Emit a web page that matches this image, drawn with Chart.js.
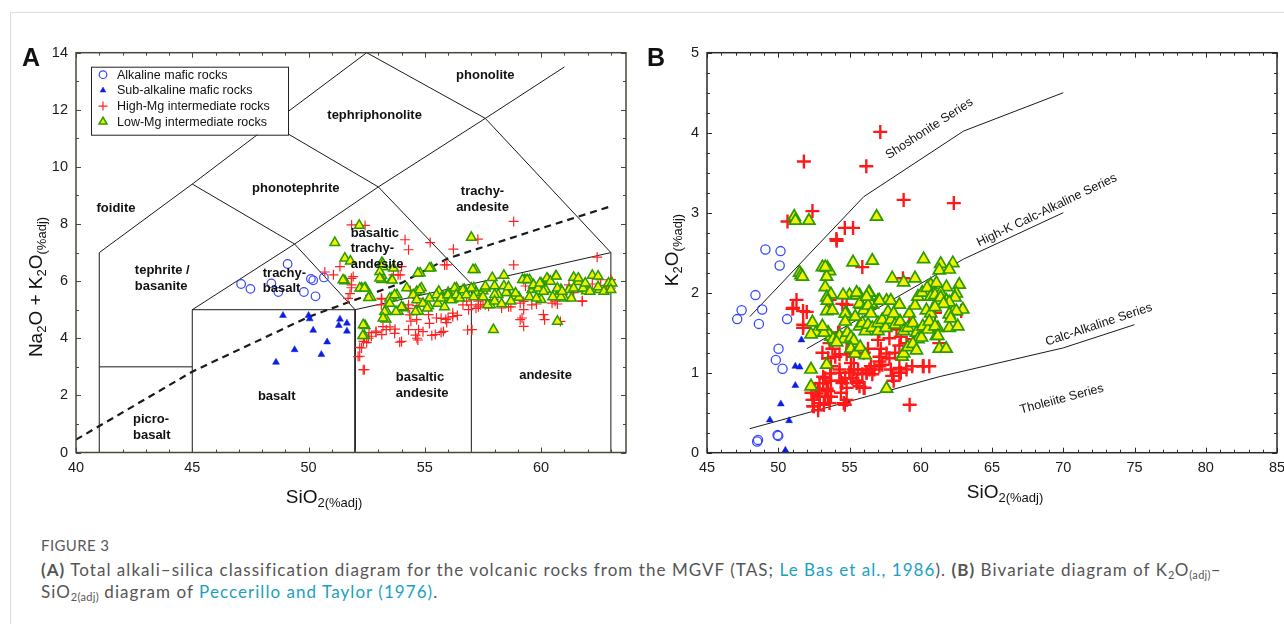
<!DOCTYPE html>
<html>
<head>
<meta charset="utf-8">
<script src="https://cdn.jsdelivr.net/npm/chart.js@4.4.0/dist/chart.umd.min.js"></script>
<style>
body { margin:0; background:#fff; width:1284px; height:624px; overflow:hidden; position:relative; font-family:"Liberation Sans", Arial, sans-serif; color:#111; }
#page { position:absolute; left:10px; top:12px; right:0; bottom:0; border-left:1px solid #dcdcdc; border-top:1px solid #dcdcdc; }
canvas { position:absolute; }
#tas { left:0; top:36px; }
#pec { left:640px; top:36px; }
.panel { position:absolute; font-weight:bold; font-size:25px; transform:translate(-50%,-50%); }
.ytitle { position:absolute; font-size:19px; transform:translate(-50%,-50%) rotate(-90deg); white-space:nowrap; }
.xtitle { position:absolute; font-size:19px; transform:translate(-50%,-50%); white-space:nowrap; }
.ytitle sub, .xtitle sub { font-size:13px; vertical-align:-4px; line-height:0; }
#capTitle { position:absolute; left:41px; top:536px; font-family:Lato, sans-serif; font-size:15px; color:#5a5a5a; letter-spacing:0.4px; }
#cap { position:absolute; left:41px; top:559px; width:1240px; white-space:nowrap; font-family:Lato, sans-serif; font-size:17px; letter-spacing:1.05px; line-height:22px; color:#555; }
#cap b { color:#555; }
#cap a { color:#1ba1c0; text-decoration:none; }
#cap sub { font-size:11px; line-height:0; vertical-align:-3px; letter-spacing:0.3px; }
</style>
</head>
<body>
<div id="page"></div>
<canvas id="tas" width="640" height="480"></canvas>
<canvas id="pec" width="664" height="480"></canvas>
<div class="panel" style="left:31px;top:57px">A</div>
<div class="panel" style="left:656px;top:57px">B</div>
<div class="ytitle" style="left:36px;top:287px">Na<sub>2</sub>O + K<sub>2</sub>O<sub>(%adj)</sub></div>
<div class="xtitle" style="left:324px;top:497px">SiO<sub>2(%adj)</sub></div>
<div class="ytitle" style="left:672px;top:250px">K<sub>2</sub>O<sub>(%adj)</sub></div>
<div class="xtitle" style="left:1005px;top:492px">SiO<sub>2(%adj)</sub></div>
<div id="capTitle">FIGURE 3</div>
<div id="cap"><b>(A)</b> Total alkali–silica classification diagram for the volcanic rocks from the MGVF (TAS; <a>Le Bas et al., 1986</a>). <b>(B)</b> Bivariate diagram of K<sub>2</sub>O<sub>(adj)</sub>–<br>SiO<sub>2(adj)</sub> diagram of <a>Peccerillo and Taylor (1976)</a>.</div>
<script>
// ---------- Panel A : TAS  [SiO2, Na2O+K2O] ----------
const tasAlkaline = [[47.1,5.9],[47.5,5.73],[49.1,6.6],[48.4,5.92],[48.7,5.62],[49.8,5.62],[50.1,6.08],[50.2,6.03],[50.3,5.47],[50.66,6.13]];

const tasSubAlkaline = [[48.9,4.8],[50.0,4.8],[50.05,4.68],[50.2,4.28],[50.8,3.87],[49.4,3.6],[50.55,3.43],[48.6,3.16],[51.35,4.67],[51.3,4.45],[51.65,4.53],[51.65,4.25]];

const tasHighMg = [
  [51.85,7.97],[52.43,7.95],[54.15,7.45],[54.3,7.1],[55.23,7.35],[56.23,7.12],[57.28,7.47],[58.82,8.09],[58.82,6.57],[62.41,6.84],
  [55.95,6.57],[51.35,6.51],[51.07,6.22],[50.7,6.32],[51.92,6.16],[53.65,6.22],[53.94,6.22],[51.85,5.87],[51.78,5.56],[54.0,6.51],
  [53.15,5.37],[53.58,5.37],[54.37,5.67],[54.3,5.17],[54.66,5.14],[55.16,4.83],[55.5,4.71],[55.7,4.7],[56.0,4.71],[56.2,4.76],
  [56.4,4.8],[56.88,5.0],[57.3,5.1],[57.03,4.3],[55.45,4.13],[55.8,4.24],[54.73,4.3],[54.66,4.0],[54.0,3.89],[54.3,4.3],
  [53.72,4.32],[53.34,4.3],[53.15,4.13],[52.9,4.2],[52.7,4.07],[52.58,4.0],[52.36,3.89],[52.28,3.66],[52.2,3.37],[52.4,2.9],
  [59.25,6.05],[60.04,5.93],[61.2,5.87],[61.77,5.29],[62.99,6.05],[63.0,5.76],[59.1,4.65],[59.25,4.42],[60.1,4.83],[60.15,4.65],
  [60.83,4.59],[60.6,5.3],[58.3,5.23],[58.7,5.1],[59.1,5.23],[57.74,5.12],[57.3,5.3],[59.8,5.2],[57.6,5.17],[57.96,5.35],
  [58.3,5.06],[58.6,5.1],[59.25,5.29],[59.25,5.0],[59.6,5.17],[59.18,4.71],[60.47,5.23],[60.7,5.2],[61.77,5.31],[62.56,6.05],
  [63.0,6.05],[59.33,5.83],[61.1,5.65],[61.4,5.6],[62.2,5.9],[62.8,5.85],[51.84,6.1],[51.84,5.77],[51.7,5.4],[53.13,5.4],
  [53.85,6.22],[55.85,6.57],[54.35,4.82],[54.4,4.6],[54.65,4.65],[54.92,4.23],[54.6,4.11],[54.7,3.94],[53.92,3.86],[55.2,4.52],
  [55.3,4.1],[55.7,4.2],[55.9,4.66],[55.94,4.55],[56.2,4.88],[56.64,5.17],[56.8,5.3],[57.0,5.17],[57.2,5.05],[57.4,5.17],
  [57.5,5.35],[56.84,4.29],[53.2,4.41],[52.9,4.25],[52.6,4.2],[52.4,4.0],[52.5,3.85],[52.2,3.68],[52.13,3.36],[52.35,2.9],
  [53.7,4.17],[53.5,4.4],[53.13,5.17],[54.28,5.05],[54.65,5.4]
];

const tasLowMg = [
  [52.18,7.95],[51.13,7.35],[51.56,6.8],[51.8,6.7],[57.0,7.53],[57.17,6.4],[55.27,6.46],[54.8,6.28],[53.15,6.65],[53.2,6.5],
  [53.15,6.19],[53.15,6.05],[53.58,6.05],[53.65,6.45],[51.56,6.01],[52.28,5.76],[52.45,5.76],[52.68,5.43],[52.43,4.44],[52.4,4.09],
  [53.36,4.94],[53.33,4.67],[53.86,4.94],[54.07,5.06],[53.58,5.41],[53.8,5.52],[54.22,5.76],[54.65,5.63],[54.73,4.94],[54.85,5.76],
  [55.16,5.13],[55.6,5.64],[55.8,5.42],[56.0,5.6],[56.2,5.37],[56.36,5.76],[56.7,5.7],[57.1,5.76],[57.2,5.6],[57.5,5.66],
  [57.82,5.17],[58.0,5.83],[58.15,5.53],[58.4,5.83],[58.55,5.6],[58.85,5.47],[59.05,5.43],[59.3,6.05],[59.5,6.05],[59.6,5.7],
  [59.7,5.83],[60.0,5.93],[60.0,5.35],[60.2,5.7],[60.3,6.05],[60.63,6.18],[60.7,5.47],[60.85,5.7],[61.0,5.4],[61.2,5.7],
  [61.4,6.13],[61.6,5.98],[61.8,5.73],[61.95,5.66],[62.2,6.2],[62.5,5.7],[62.9,5.93],[57.95,4.3],[60.7,4.59],
  [51.48,6.04],[52.2,5.75],[52.4,5.75],[52.58,5.42],[53.06,6.33],[53.06,6.1],[53.6,6.03],[53.2,6.6],[54.7,6.28],[55.2,6.45],
  [57.07,6.4],[53.49,5.4],[53.49,5.22],[53.7,5.52],[54.0,5.1],[53.27,4.93],[53.2,4.7],[53.76,4.93],[54.6,4.93],[54.78,5.69],
  [54.5,5.52],[54.65,5.34],[54.92,5.22],[55.1,5.05],[55.2,5.4],[55.5,5.52],[55.56,5.22],[55.7,5.4],[55.85,5.1],[55.99,5.52],
  [56.13,5.34],[56.28,5.75],[56.35,5.52],[56.5,5.4],[56.64,5.69],[56.78,5.52],[57.0,5.75],[57.1,5.45],[57.5,5.45],[57.6,5.75],
  [52.35,4.47],[52.33,4.09],[57.9,6.12],[58.4,6.2],[57.6,5.82],[58.0,5.53],[57.7,5.17],[58.0,5.3],[58.3,5.2],[58.5,5.6],
  [58.6,5.8],[58.7,5.3],[58.9,5.58],[59.2,6.05],[59.4,6.05],[59.67,5.87],[59.5,5.45],[59.8,5.4],[59.87,5.75],[59.95,5.93],
  [60.1,5.64],[60.25,6.1],[60.4,5.99],[60.5,5.45],[60.65,6.17],[60.7,5.75],[60.85,5.45],[60.9,5.64],[61.3,5.4],[61.4,5.75],
  [61.6,6.1],[61.8,5.75],[61.9,5.93],[62.1,5.64],[62.45,6.17],[62.45,5.8],[62.7,5.64],[63.05,5.93],[63.0,5.7]
];

// TAS field boundaries (Le Bas et al., 1986)
const tasFields = [
  [[41,0],[41,3],[45,3]],
  [[41,3],[41,7],[45,9.4],[48.4,11.5],[52.5,14],[57.6,11.7]],
  [[45,0],[45,5],[52,5],[52,0]],
  [[45,5],[49.4,7.3],[53,9.3],[57.6,11.7],[61,13.5]],
  [[52,5],[57,5.9],[63,7]],
  [[57,0],[57,5.9]],
  [[63,0],[63,7]],
  [[49.4,7.3],[52,5]],
  [[53,9.3],[57,5.9]],
  [[57.6,11.7],[63,7]],
  [[45,9.4],[49.4,7.3]],
  [[48.4,11.5],[53,9.3]]
];
const tasDivider = [[40,0.45],[45,2.83],[50,4.75],[54,5.94],[56,6.8],[60,7.85],[63,8.62]];

const tasFieldNames = [
  {lines:['phonolite'], at:[57.6,13.22]},
  {lines:['tephriphonolite'], at:[52.84,11.82]},
  {lines:['phonotephrite'], at:[49.45,9.23]},
  {lines:['foidite'], at:[41.72,8.55]},
  {lines:['trachy-','andesite'], at:[57.48,8.86]},
  {lines:['basaltic','trachy-','andesite'], at:[51.81,7.13], left:true},
  {lines:['tephrite /','basanite'], at:[42.53,6.09], left:true},
  {lines:['trachy-','basalt'], at:[48.03,6.0], left:true},
  {lines:['basalt'], at:[48.63,1.98]},
  {lines:['basaltic','andesite'], at:[53.75,2.35], left:true},
  {lines:['andesite'], at:[60.19,2.71]},
  {lines:['picro-','basalt'], at:[42.45,0.88], left:true}
];

// ---------- Panel B : K2O vs SiO2 ----------
const pecAlkaline = [[49.1,2.54],[50.16,2.52],[50.1,2.34],[47.12,1.67],[47.43,1.78],[48.4,1.97],[48.64,1.61],[48.87,1.79],[50.62,1.67],[50.02,1.3],[49.83,1.16],[50.3,1.05],[48.52,0.14],[48.58,0.16],[49.95,0.22],[50.0,0.21]];

const pecSubAlkaline = [[51.63,1.41],[51.2,1.08],[51.5,1.07],[51.2,0.84],[50.18,0.61],[49.41,0.41],[50.76,0.4],[50.5,0.03]];

const pecHighMg = [
  [51.8,3.64],[57.16,4.01],[56.18,3.58],[52.4,3.02],[50.65,2.89],[58.8,3.16],[62.32,3.12],[54.67,2.81],[55.25,2.81],[54.08,2.67],
  [54.1,2.65],[55.9,2.32],[51.04,1.81],[51.28,1.91],[51.74,1.77],[52.0,1.76],[51.74,1.56],[53.6,1.91],[54.8,1.85],[58.75,2.18],
  [60.85,1.79],[61.0,1.75],[62.84,1.77],[59.2,1.62],[58.3,1.54],[61.3,1.37],[59.22,0.6],[54.67,0.6],
  [52.45,0.58],[52.5,0.66],[52.33,0.75],[52.8,0.78],[53.15,0.87],[53.3,0.93],[53.4,0.8],[53.65,0.99],[53.7,0.9],[54.3,1.04],
  [54.4,0.9],[54.8,0.81],[55.0,1.0],[55.3,1.04],[55.5,0.9],[56.06,0.81],[56.2,1.0],[56.4,1.04],[57.1,1.2],[57.1,1.08],
  [56.0,1.25],[55.3,1.2],[54.0,1.2],[54.2,1.5],[54.8,1.4],[57.2,1.3],[57.8,1.43],[58.2,1.25],[59.0,1.37],[59.5,1.42],
  [60.15,1.08],[60.6,1.08],[58.5,1.0],[58.1,0.9],[59.0,1.04],[53.5,0.7],[53.2,0.6],[52.8,0.53],[52.9,0.7],[54.8,0.66],
  [51.0,1.8],[51.75,1.6],[54.5,1.86],[54.3,1.5],[53.5,1.18],[53.7,1.08],[53.15,0.95],[52.9,0.87],[52.6,0.8],[52.7,0.74],
  [52.4,0.66],[52.5,0.58],[52.9,0.62],[53.3,0.7],[53.5,0.77],[53.7,0.7],[53.6,0.62],[54.4,0.75],[54.5,0.87],[54.6,0.62],
  [54.7,0.93],[54.3,1.0],[55.0,1.0],[55.1,1.12],[55.2,0.93],[55.5,0.87],[55.7,0.83],[56.0,0.81],[55.6,1.04],[55.9,0.98],
  [56.2,1.0],[56.5,1.08],[56.6,0.98],[56.75,1.04],[57.1,1.14],[57.3,1.1],[57.6,1.24],[57.8,1.18],[58.0,0.96],[58.5,1.06],
  [58.6,1.0],[57.9,1.04],[59.4,1.08],[60.2,1.08],[57.0,1.41],[57.1,1.52],[53.6,1.37],[53.8,1.3],[53.1,1.25],[54.3,1.23],
  [54.8,1.23],[55.2,1.3],[56.3,1.3],[58.5,1.34],[58.6,1.45]
];

const pecLowMg = [
  [51.12,2.95],[51.2,2.9],[52.15,2.9],[56.9,2.95],[55.25,2.38],[56.6,2.4],[60.2,2.42],[51.5,2.25],[51.6,2.22],[53.45,2.31],
  [53.6,2.27],[53.4,2.2],[53.3,2.07],[53.7,1.98],[53.4,1.94],[53.4,1.77],[53.8,1.78],[52.4,1.63],[52.65,1.5],[52.3,1.48],
  [52.3,1.04],[52.3,0.83],[53.4,1.1],[53.7,1.45],[54.0,1.4],[54.8,1.74],[55.0,1.97],[55.7,1.97],[56.4,2.0],[55.8,1.85],
  [56.6,1.85],[57.0,1.9],[57.6,1.9],[58.0,2.18],[58.8,2.13],[59.6,2.18],[60.7,2.1],[61.4,2.36],[61.3,2.28],[61.8,2.07],
  [61.4,2.0],[62.3,1.77],[62.0,1.56],[61.3,1.3],[58.7,1.2],[57.6,0.8],[53.1,2.32],[53.3,2.32],[51.7,2.2],[53.45,1.9],
  [62.25,2.37],[62.0,2.29],[61.1,2.12],[62.7,2.1],[62.5,1.99],[62.4,1.94],[61.8,1.9],[62.0,1.88],[62.95,1.79],[62.5,1.77],
  [62.0,1.73],[62.1,1.68],[62.6,1.58],[61.2,1.56],[61.1,1.46],[61.78,1.3],
  [54.55,1.97],[55.5,1.97],[56.35,2.0],[54.7,1.74],[55.7,1.86],[56.5,1.86],[57.1,1.9],[57.9,1.9],[58.5,1.85],[59.2,1.74],
  [59.6,1.84],[59.8,1.95],[60.1,2.0],[60.45,2.06],[60.7,1.95],[61.0,1.97],[61.2,1.9],[61.4,1.94],[61.6,1.86],[60.4,1.78],
  [60.7,1.74],[61.0,1.82],[56.0,1.78],[56.3,1.84],[53.5,1.5],[53.85,1.42],[54.3,1.46],[54.6,1.42],[54.85,1.5],[55.1,1.44],
  [55.3,1.4],[55.7,1.58],[55.9,1.62],[56.1,1.52],[56.3,1.6],[56.6,1.56],[57.0,1.52],[57.0,1.62],[57.3,1.66],[57.55,1.56],
  [57.9,1.66],[58.2,1.6],[58.55,1.64],[58.8,1.52],[59.1,1.56],[59.45,1.62],[59.7,1.5],[59.8,1.42],[60.05,1.44],[60.15,1.58],
  [60.5,1.54],[60.6,1.64],[61.0,1.58],[61.2,1.46],[55.1,1.3],[55.4,1.24],[55.75,1.32],[56.1,1.22],[58.8,1.24],[59.1,1.32],
  [59.45,1.36],[59.7,1.28],[54.1,1.38],[53.2,1.5],[53.1,1.58],[54.7,1.64],[55.4,1.7],[56.5,1.74],[57.7,1.76],[58.1,1.74],
  [55.5,2.0],[56.2,1.95]
];

// Series boundaries (Peccerillo & Taylor, 1976)
const pecBounds = [
  [[48,1.7],[56,3.2],[63,4.02],[70,4.5]],
  [[52,1.3],[63,2.42],[70,3.0]],
  [[48,0.3],[61.3,0.95],[70,1.31],[75,1.6]]
];
const pecSeriesNames = [
  {text:'Shoshonite Series', at:[60.6,4.05], angle:-33},
  {text:'High-K Calc-Alkaline Series', at:[68.85,3.03], angle:-25.5},
  {text:'Calc-Alkaline Series', at:[72.5,1.6], angle:-18.5},
  {text:'Tholeiite Series', at:[69.9,0.67], angle:-15}
];

const toXY = arr => arr.map(p => ({x: p[0], y: p[1]}));
const FONT = '"Liberation Sans", Arial, sans-serif';

function lineSets(list, extra) {
  return list.map(seg => Object.assign({
    data: toXY(seg), showLine: true, pointRadius: 0, borderColor: '#1a1a1a',
    borderWidth: 1, order: 10, fill: false
  }, extra || {}));
}

// frame, inward tick marks and text inside the plot
function decoPlugin(cfg) {
  return {
    id: 'deco',
    afterDatasetsDraw(chart) {
      const {ctx, chartArea: a, scales: {x, y}} = chart;
      ctx.save();
      ctx.fillStyle = '#111';
      ctx.textBaseline = 'middle';
      if (cfg.fieldNames) {
        ctx.font = 'bold 13px ' + FONT;
        cfg.fieldNames.forEach(f => {
          const px = x.getPixelForValue(f.at[0]);
          const py = y.getPixelForValue(f.at[1]);
          ctx.textAlign = f.left ? 'left' : 'center';
          const lh = 15.5, n = f.lines.length;
          f.lines.forEach((t, i) => ctx.fillText(t, px, py + (i - (n - 1) / 2) * lh));
        });
      }
      if (cfg.seriesNames) {
        ctx.font = '12.5px ' + FONT;
        ctx.textAlign = 'center';
        cfg.seriesNames.forEach(s => {
          ctx.save();
          ctx.translate(x.getPixelForValue(s.at[0]), y.getPixelForValue(s.at[1]));
          ctx.rotate(s.angle * Math.PI / 180);
          ctx.fillText(s.text, 0, 0);
          ctx.restore();
        });
      }
      if (cfg.legend) {
        const L = a.left + 15, T = a.top + 14, W = 197, H = 68;
        ctx.fillStyle = '#fff';
        ctx.fillRect(L, T, W, H);
        ctx.strokeStyle = '#222';
        ctx.lineWidth = 1;
        ctx.strokeRect(L + 0.5, T + 0.5, W, H);
        ctx.font = '12.5px ' + FONT;
        ctx.textAlign = 'left';
        chart.data.datasets.filter(d => d.label).forEach((d, i) => {
          const ry = T + 8 + i * 15.7;
          ctx.save();
          ctx.strokeStyle = d.borderColor;
          ctx.fillStyle = d.backgroundColor;
          ctx.lineWidth = d.borderWidth;
          Chart.helpers.drawPoint(ctx, {pointStyle: d.pointStyle, radius: d.legendRadius, borderWidth: d.borderWidth}, L + 12, ry);
          ctx.restore();
          ctx.fillStyle = '#111';
          ctx.fillText(d.label, L + 26, ry + 0.5);
        });
      }
      // frame
      ctx.strokeStyle = cfg.frameColor;
      ctx.lineWidth = 1.5;
      ctx.strokeRect(a.left, a.top, a.right - a.left, a.bottom - a.top);
      // inward ticks on all four sides
      ctx.lineWidth = 1;
      const eps = 1e-6;
      for (let v = Math.ceil(x.min / cfg.xMinor - eps) * cfg.xMinor; v <= x.max + eps; v += cfg.xMinor) {
        const major = Math.abs(v / cfg.xMajor - Math.round(v / cfg.xMajor)) < eps;
        const len = major ? 5 : 3, px = Math.round(x.getPixelForValue(v)) + 0.5;
        ctx.beginPath();
        ctx.moveTo(px, a.bottom); ctx.lineTo(px, a.bottom - len);
        ctx.moveTo(px, a.top); ctx.lineTo(px, a.top + len);
        ctx.stroke();
      }
      for (let v = Math.ceil(y.min / cfg.yMinor - eps) * cfg.yMinor; v <= y.max + eps; v += cfg.yMinor) {
        const major = Math.abs(v / cfg.yMajor - Math.round(v / cfg.yMajor)) < eps;
        const len = major ? 5 : 3, py = Math.round(y.getPixelForValue(v)) + 0.5;
        ctx.beginPath();
        ctx.moveTo(a.left, py); ctx.lineTo(a.left + len, py);
        ctx.moveTo(a.right, py); ctx.lineTo(a.right - len, py);
        ctx.stroke();
      }
      ctx.restore();
    }
  };
}

function axes(xr, yr, yWidth, xHeight) {
  const tickFont = {family: FONT, size: 14.5};
  return {
    x: {
      type: 'linear', min: xr[0], max: xr[1],
      grid: {display: false, drawTicks: false}, border: {display: false},
      ticks: {stepSize: xr[2], includeBounds: false, padding: 7, color: '#1a1a1a', font: tickFont, maxRotation: 0},
      afterFit: s => { s.height = xHeight; }
    },
    y: {
      type: 'linear', min: yr[0], max: yr[1],
      grid: {display: false, drawTicks: false}, border: {display: false},
      ticks: {stepSize: yr[2], includeBounds: false, padding: 8, color: '#1a1a1a', font: tickFont},
      afterFit: s => { s.width = yWidth; }
    }
  };
}

const common = {
  responsive: false, animation: false, events: [],
  plugins: {legend: {display: false}, tooltip: {enabled: false}}
};

// Panel A
new Chart(document.getElementById('tas'), {
  type: 'scatter',
  data: {
    datasets: [
      {label: 'Alkaline mafic rocks', data: toXY(tasAlkaline), pointStyle: 'circle', pointRadius: 4.3, legendRadius: 3.8,
       backgroundColor: 'rgba(0,0,0,0)', borderColor: '#3848ff', borderWidth: 1.2, order: 4},
      {label: 'Sub-alkaline mafic rocks', data: toXY(tasSubAlkaline), pointStyle: 'triangle', pointRadius: 4, legendRadius: 3.3,
       backgroundColor: '#0b1ee6', borderColor: '#0b1ee6', borderWidth: 0.5, order: 3},
      {label: 'High-Mg intermediate rocks', data: toXY(tasHighMg), pointStyle: 'cross', pointRadius: 5, legendRadius: 4.5,
       backgroundColor: '#ff2222', borderColor: '#ff2222', borderWidth: 1.2, order: 2},
      {label: 'Low-Mg intermediate rocks', data: toXY(tasLowMg), pointStyle: 'triangle', pointRadius: 5.6, legendRadius: 4.6,
       backgroundColor: '#f2f200', borderColor: '#2c9a00', borderWidth: 1.5, order: 1},
      ...lineSets(tasFields),
      ...lineSets([tasDivider], {borderWidth: 2.2, borderDash: [7, 5]})
    ]
  },
  options: Object.assign({}, common, {
    layout: {padding: {top: 16, right: 14, left: 0, bottom: 0}},
    scales: axes([40, 63.65, 5], [0, 14, 2], 76, 63.5)
  }),
  plugins: [decoPlugin({fieldNames: tasFieldNames, legend: true, frameColor: '#48483a', xMinor: 1, xMajor: 5, yMinor: 1, yMajor: 2})]
});

// Panel B
new Chart(document.getElementById('pec'), {
  type: 'scatter',
  data: {
    datasets: [
      {data: toXY(pecAlkaline), pointStyle: 'circle', pointRadius: 4.6,
       backgroundColor: 'rgba(0,0,0,0)', borderColor: '#3848ff', borderWidth: 1.3, order: 4},
      {data: toXY(pecSubAlkaline), pointStyle: 'triangle', pointRadius: 4, backgroundColor: '#0b1ee6', borderColor: '#0b1ee6', borderWidth: 0.5, order: 3},
      {data: toXY(pecHighMg), pointStyle: 'cross', pointRadius: 7, backgroundColor: '#ff1a1a', borderColor: '#ff1a1a', borderWidth: 2.4, order: 2},
      {data: toXY(pecLowMg), pointStyle: 'triangle', pointRadius: 7, backgroundColor: '#f2f200', borderColor: '#2c9a00', borderWidth: 1.7, order: 1},
      ...lineSets(pecBounds)
    ]
  },
  options: Object.assign({}, common, {
    layout: {padding: {top: 16, right: 27, left: 0, bottom: 0}},
    scales: axes([45, 85, 5], [0, 5, 1], 67, 63.3)
  }),
  plugins: [decoPlugin({seriesNames: pecSeriesNames, frameColor: '#2a2a2a', xMinor: 1, xMajor: 5, yMinor: 0.25, yMajor: 1})]
});
</script>
</body>
</html>
